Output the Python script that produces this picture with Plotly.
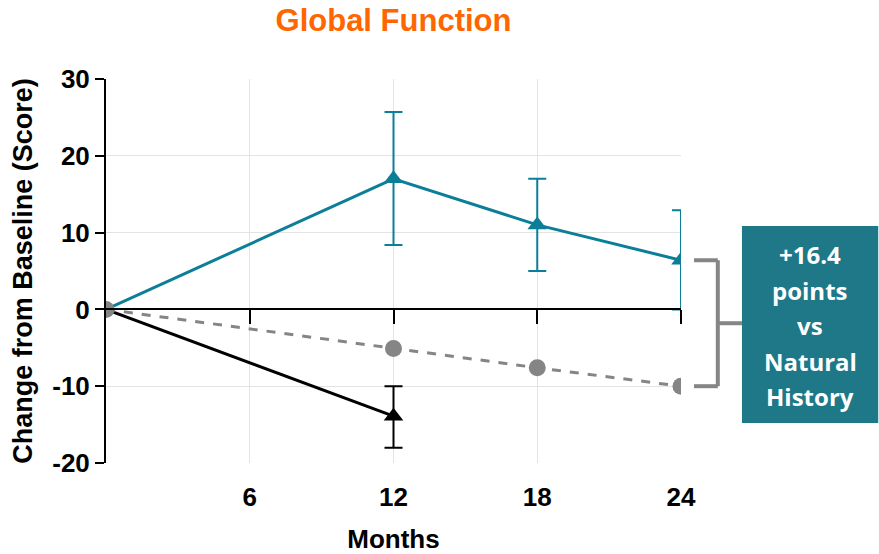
import plotly.graph_objects as go

months = [0, 12, 18, 24]
treated = [0, 17.0, 11.0, 6.4]
treated_err_plus = [0, 8.7, 6.0, 6.5]
treated_err_minus = [0, 8.6, 6.0, 6.4]

natural_months = [0, 12, 18, 24]
natural = [0, -5.1, -7.6, -10.0]

untreated_months = [0, 12]
untreated = [0, -13.9]
untreated_err_plus = [0, 3.9]
untreated_err_minus = [0, 4.1]

x_ticks = [6, 12, 18, 24]
y_ticks = [-20, -10, 0, 10, 20, 30]
box_lines = ["+16.4", "points", "vs", "Natural", "History"]

TEAL = "#0B7E98"
GREY = "#858585"
BOX = "#1E7888"
FONT = "Liberation Sans, Arial, sans-serif"

fig = go.Figure()
fig.add_trace(go.Scatter(
    x=months, y=treated, mode="lines+markers",
    line=dict(color=TEAL, width=3),
    marker=dict(symbol="triangle-up", size=17, color=TEAL),
    error_y=dict(type="data", symmetric=False, array=treated_err_plus,
                 arrayminus=treated_err_minus, color=TEAL, thickness=2, width=9),
    showlegend=False))
fig.add_trace(go.Scatter(
    x=untreated_months, y=untreated, mode="lines+markers",
    line=dict(color="black", width=3),
    marker=dict(symbol="triangle-up", size=17, color="black"),
    error_y=dict(type="data", symmetric=False, array=untreated_err_plus,
                 arrayminus=untreated_err_minus, color="black", thickness=2, width=9),
    showlegend=False))
fig.add_trace(go.Scatter(
    x=natural_months, y=natural, mode="lines+markers",
    line=dict(color=GREY, width=3, dash="dash"),
    marker=dict(symbol="circle", size=17, color=GREY),
    showlegend=False))
# overlay axis drawn along y = 0 with downward ticks
fig.add_trace(go.Scatter(x=[None], y=[None], xaxis="x2", showlegend=False))

y_lo, y_hi = -20, 30
zero_pos = (0 - y_lo) / (y_hi - y_lo)

fig.update_layout(
    width=879, height=554,
    margin=dict(l=106, r=198, t=79, b=91),
    plot_bgcolor="white", paper_bgcolor="white",
    font=dict(family=FONT, color="black"),
    title=dict(text="<b>Global Function</b>", x=0.5, xref="paper", y=0.963, yref="container",
               xanchor="center", yanchor="middle",
               font=dict(size=31, color="#FF6600", family=FONT)),
    xaxis=dict(range=[0, 24], tickvals=x_ticks, ticktext=[f"<b>{v}</b>" for v in x_ticks],
               showline=False, ticks="", zeroline=False, automargin=False,
               showgrid=True, gridcolor="#E3E3E3", gridwidth=1,
               tickfont=dict(size=26), ticklabelstandoff=16,
               title=dict(text="<b>Months</b>", font=dict(size=26), standoff=30)),
    xaxis2=dict(range=[0, 24], overlaying="x", anchor="free", position=zero_pos,
                side="bottom", tickvals=x_ticks, showticklabels=False,
                showline=True, linecolor="black", linewidth=2, automargin=False,
                ticks="outside", ticklen=14, tickwidth=2, tickcolor="black",
                showgrid=False, zeroline=False),
    yaxis=dict(range=[y_lo, y_hi], tickvals=y_ticks, ticktext=[f"<b>{v}</b>" for v in y_ticks],
               showline=True, linecolor="black", linewidth=2, automargin=False,
               ticks="outside", ticklen=9, tickwidth=2, tickcolor="black",
               showgrid=True, gridcolor="#E3E3E3", gridwidth=1, zeroline=False,
               tickfont=dict(size=26),
               title=dict(text="<b>Change from Baseline (Score)</b>", font=dict(size=27), standoff=12)),
)

# bracket linking treated and natural history at 24 months
top = treated[-1]
bot = natural[-1]
mid = (top + bot) / 2
bx_l, bx_r = 1.0226, 1.064
box_l, box_r = 1.106, 1.343
box_b, box_t = 0.104, 0.617
for (x0, y0, x1, y1) in [(bx_l, top, bx_r, top), (bx_r, top, bx_r, bot),
                         (bx_l, bot, bx_r, bot), (bx_r, mid, box_l, mid)]:
    fig.add_shape(type="line", xref="paper", yref="y", x0=x0, y0=y0, x1=x1, y1=y1,
                  line=dict(color=GREY, width=4))
fig.add_shape(type="rect", xref="paper", yref="paper", x0=box_l, x1=box_r,
              y0=box_b, y1=box_t, fillcolor=BOX, line=dict(width=0), layer="above")
line_step = 35.5 / 384
center = 0.357
n = len(box_lines)
for i, t in enumerate(box_lines):
    fig.add_annotation(xref="paper", yref="paper", x=(box_l + box_r) / 2,
                       y=center + ((n - 1) / 2 - i) * line_step,
                       xanchor="center", yanchor="middle",
                       text=f"<b>{t}</b>", showarrow=False, align="center",
                       font=dict(size=24, color="white", family="Open Sans, sans-serif"))

fig.write_html("out.html")
